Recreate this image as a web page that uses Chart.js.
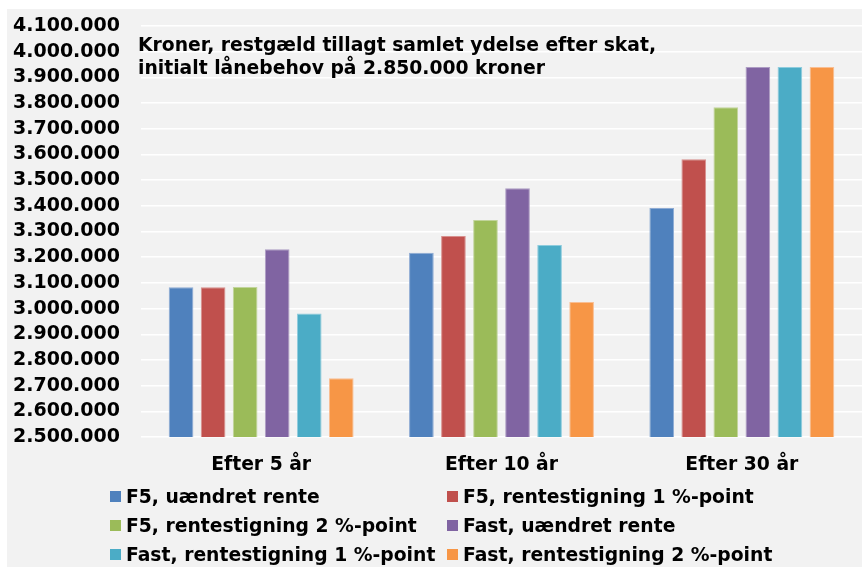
<!DOCTYPE html>
<html>
<head>
<meta charset="utf-8">
<script src="https://cdn.jsdelivr.net/npm/chart.js@4/dist/chart.umd.min.js"></script>
<style>
  html, body { margin: 0; padding: 0; background: #fff; }
  body { width: 862px; height: 570px; position: relative; overflow: hidden; font-family: 'DejaVu Sans', Verdana, sans-serif; }
  #panel { position: absolute; left: 7px; top: 9px; width: 855px; height: 558px; background: #f2f2f2; }
  #chart { position: absolute; left: 0; top: 0; }
  #legend {
    position: absolute; left: 103px; top: 473px;
    display: grid; grid-template-columns: 337px 337px; grid-auto-rows: 29px;
    font-weight: bold; font-size: 18.75px; color: #000;
  }
  #legend .item { display: flex; align-items: center; white-space: nowrap; }
  #legend .sw { width: 11px; height: 11px; margin-right: 5px; flex: none; }
</style>
</head>
<body>
<div id="panel">
  <canvas id="chart" width="855" height="558"></canvas>
  <div id="legend"></div>
</div>
<script>
// Kategorier og serier
const KATEGORIER = ['Efter 5 år', 'Efter 10 år', 'Efter 30 år'];
const SERIER = [
  'F5, uændret rente',
  'F5, rentestigning 1 %-point',
  'F5, rentestigning 2 %-point',
  'Fast, uændret rente',
  'Fast, rentestigning 1 %-point',
  'Fast, rentestigning 2 %-point'
];
const F5_UAENDRET   = [3083000, 3217000, 3391000];
const F5_RENTE1     = [3083000, 3282000, 3581000];
const F5_RENTE2     = [3084000, 3345000, 3784000];
const FAST_UAENDRET = [3231000, 3468000, 3940000];
const FAST_RENTE1   = [2981000, 3247000, 3940000];
const FAST_RENTE2   = [2729000, 3026000, 3940000];
const TITEL = [
  'Kroner, restgæld tillagt samlet ydelse efter skat,',
  'initialt lånebehov på 2.850.000 kroner'
];
const Y_MIN = 2500000, Y_MAX = 4100000, Y_STEP = 100000;

const FARVER = ['#4F81BD', '#C0504D', '#9BBB59', '#8064A2', '#4BACC6', '#F79646'];
const KANTER = ['#8DAAD3', '#D78F8D', '#C1D49B', '#AD9CC3', '#8ECCDD', '#F9BE92'];
const VAERDIER = [F5_UAENDRET, F5_RENTE1, F5_RENTE2, FAST_UAENDRET, FAST_RENTE1, FAST_RENTE2];

const FONT = "'DejaVu Sans', Verdana, sans-serif";

function fmtTal(v) {
  return String(Math.round(v)).replace(/\B(?=(\d{3})+(?!\d))/g, '.');
}

// Titel tegnes inde i plotområdet
const titelPlugin = {
  id: 'titel',
  afterDraw(chart) {
    const ctx = chart.ctx;
    ctx.save();
    ctx.font = 'bold 18.75px ' + FONT;
    ctx.fillStyle = '#000';
    ctx.textBaseline = 'alphabetic';
    ctx.textAlign = 'left';
    TITEL.forEach((l, i) => ctx.fillText(l, 131, 42 + i * 23));
    ctx.restore();
  }
};

const datasets = SERIER.map((navn, i) => ({
  label: navn,
  data: VAERDIER[i],
  backgroundColor: FARVER[i],
  borderColor: KANTER[i],
  borderWidth: 1,
  categoryPercentage: 0.8,
  barPercentage: 0.77
}));

new Chart(document.getElementById('chart'), {
  type: 'bar',
  data: { labels: KATEGORIER, datasets },
  options: {
    responsive: false,
    animation: false,
    layout: { padding: { top: 17, right: 0, bottom: 90, left: 0 } },
    plugins: {
      legend: { display: false },
      tooltip: { enabled: false }
    },
    scales: {
      x: {
        grid: { display: false, drawTicks: false },
        border: { display: false },
        ticks: { color: '#000', font: { family: FONT, size: 18.75, weight: 'bold' }, padding: 17 },
        afterFit: (s) => { s.height = 40; }
      },
      y: {
        min: Y_MIN, max: Y_MAX,
        grid: { color: '#ffffff', lineWidth: 1.5, drawTicks: true, tickLength: 21, tickColor: 'rgba(0,0,0,0)' },
        border: { display: false },
        ticks: {
          stepSize: Y_STEP,
          autoSkip: false,
          color: '#000',
          font: { family: FONT, size: 19, weight: 'bold' },
          padding: 0,
          callback: (v) => fmtTal(v)
        },
        afterFit: (s) => { s.width = 134; }
      }
    }
  },
  plugins: [titelPlugin]
});

// Forklaring i to kolonner
const legend = document.getElementById('legend');
SERIER.forEach((navn, i) => {
  const it = document.createElement('div');
  it.className = 'item';
  const sw = document.createElement('span');
  sw.className = 'sw';
  sw.style.background = FARVER[i];
  const tx = document.createElement('span');
  tx.textContent = navn;
  it.appendChild(sw);
  it.appendChild(tx);
  legend.appendChild(it);
});
</script>
</body>
</html>
